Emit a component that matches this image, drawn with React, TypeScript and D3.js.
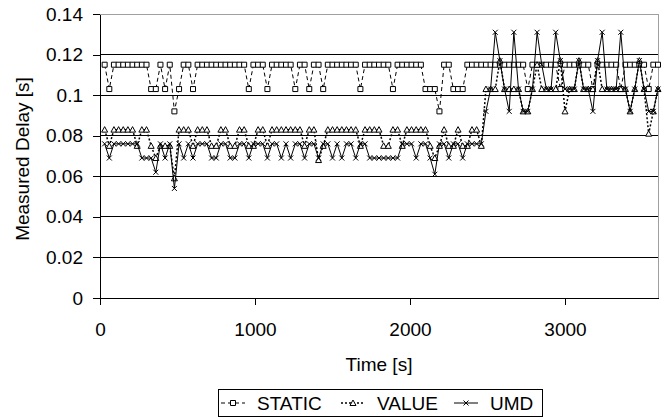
import React, { useRef, useEffect } from 'react'
import * as d3 from 'd3'

// sample times [s]
const times = [
  30, 60, 90, 120, 150, 180, 210, 240, 270, 300,
  330, 360, 390, 420, 450, 480, 510, 540, 570, 600,
  630, 660, 690, 720, 750, 780, 810, 840, 870, 900,
  930, 960, 990, 1020, 1050, 1080, 1110, 1140, 1170, 1200,
  1230, 1260, 1290, 1320, 1350, 1380, 1410, 1440, 1470, 1500,
  1530, 1560, 1590, 1620, 1650, 1680, 1710, 1740, 1770, 1800,
  1830, 1860, 1890, 1920, 1950, 1980, 2010, 2040, 2070, 2100,
  2130, 2160, 2190, 2220, 2250, 2280, 2310, 2340, 2370, 2400,
  2430, 2460, 2490, 2520, 2550, 2580, 2610, 2640, 2670, 2700,
  2730, 2760, 2790, 2820, 2850, 2880, 2910, 2940, 2970, 3000,
  3030, 3060, 3090, 3120, 3150, 3180, 3210, 3240, 3270, 3300,
  3330, 3360, 3390, 3420, 3450, 3480, 3510, 3540, 3570, 3600
]

const staticDelay = [
  .115, .103, .115, .115, .115, .115, .115, .115, .115, .115,
  .103, .103, .115, .103, .115, .092, .103, .115, .115, .103,
  .115, .115, .115, .115, .115, .115, .115, .115, .115, .115,
  .115, .103, .115, .115, .115, .103, .115, .115, .115, .115,
  .115, .103, .115, .115, .103, .115, .115, .103, .115, .115,
  .115, .115, .115, .115, .115, .103, .115, .115, .115, .115,
  .115, .115, .103, .115, .115, .115, .115, .115, .115, .103,
  .103, .103, .092, .115, .115, .103, .103, .103, .115, .115,
  .115, .115, .115, .115, .115, .115, .115, .115, .115, .115,
  .115, .103, .115, .115, .115, .115, .115, .115, .103, .115,
  .115, .115, .115, .115, .115, .103, .115, .115, .115, .115,
  .115, .103, .115, .115, .115, .115, .115, .103, .115, .115
]

const valueDelay = [
  .083, .075, .083, .083, .083, .083, .083, .075, .083, .083,
  .075, .069, .075, .075, .075, .059, .083, .083, .083, .075,
  .083, .083, .083, .075, .075, .083, .083, .075, .075, .083,
  .083, .075, .075, .083, .083, .075, .083, .083, .083, .083,
  .083, .083, .083, .075, .083, .083, .068, .075, .083, .083,
  .083, .083, .083, .083, .083, .075, .083, .083, .083, .083,
  .075, .075, .083, .083, .075, .083, .083, .083, .083, .083,
  .075, .069, .075, .083, .075, .075, .083, .075, .075, .083,
  .083, .075, .103, .103, .103, .117, .103, .103, .103, .103,
  .092, .092, .103, .115, .103, .103, .103, .103, .117, .092,
  .103, .103, .117, .103, .103, .103, .117, .103, .103, .103,
  .103, .103, .103, .092, .103, .117, .103, .081, .092, .103
]

const umdDelay = [
  .076, .069, .076, .076, .076, .076, .076, .076, .069, .069,
  .069, .062, .076, .069, .076, .054, .076, .069, .076, .069,
  .076, .076, .076, .069, .069, .076, .076, .069, .069, .076,
  .076, .069, .076, .076, .076, .069, .076, .076, .069, .076,
  .069, .076, .076, .069, .076, .076, .069, .076, .076, .069,
  .076, .069, .076, .076, .069, .076, .076, .069, .069, .069,
  .069, .069, .069, .069, .076, .076, .076, .069, .076, .076,
  .069, .061, .076, .076, .069, .076, .076, .069, .076, .076,
  .076, .076, .092, .103, .131, .117, .103, .092, .131, .103,
  .092, .092, .103, .131, .115, .103, .103, .131, .117, .103,
  .103, .103, .117, .103, .103, .092, .117, .131, .103, .103,
  .103, .131, .103, .092, .103, .117, .103, .092, .092, .103
]

const seriesNames = ['STATIC', 'VALUE', 'UMD']
const yTicks = [0, 0.02, 0.04, 0.06, 0.08, 0.1, 0.12, 0.14]
const yTickLabels = ['0', '0.02', '0.04', '0.06', '0.08', '0.1', '0.12', '0.14']
const xTicks = [0, 1000, 2000, 3000]
const xTickLabels = ['0', '1000', '2000', '3000']

const W = 665
const H = 418
const FONT = '"Liberation Sans", Arial, sans-serif'
const FS = 19

const App = () => {
  const svgRef = useRef<SVGSVGElement>(null)

  useEffect(() => {
    const svg = d3.select(svgRef.current)
    svg.selectAll('*').remove()

    const x = d3.scaleLinear().domain([0, 3600]).range([100, 658])
    const y = d3.scaleLinear().domain([0, 0.14]).range([298, 14])

    // gridlines
    svg.append('g')
      .selectAll('line')
      .data(yTicks.slice(1, -1))
      .enter().append('line')
      .attr('x1', x(0)).attr('x2', x(3600))
      .attr('y1', d => y(d)).attr('y2', d => y(d))
      .attr('stroke', '#000').attr('shape-rendering', 'crispEdges')

    // plot border (top / right)
    svg.append('path')
      .attr('d', `M${x(0)},${y(0.14)}H${x(3600)}V${y(0)}`)
      .attr('fill', 'none').attr('stroke', '#a0a0a0')
      .attr('shape-rendering', 'crispEdges')

    // axes
    const yAxis = svg.append('g')
      .attr('transform', `translate(${x(0)},0)`)
      .call(d3.axisLeft(y).tickValues(yTicks).tickSize(7).tickSizeOuter(0).tickPadding(10)
        .tickFormat((d, i) => yTickLabels[i]))
    const xAxis = svg.append('g')
      .attr('transform', `translate(0,${y(0)})`)
      .call(d3.axisBottom(x).tickValues(xTicks).tickSize(7).tickSizeOuter(0).tickPadding(18)
        .tickFormat((d, i) => xTickLabels[i]))
    ;[yAxis, xAxis].forEach(a => {
      a.selectAll('text').attr('font-size', FS).attr('font-family', FONT).attr('fill', '#000')
      a.selectAll('line, path').attr('stroke', '#000').attr('shape-rendering', 'crispEdges')
    })

    // axis titles
    svg.append('text')
      .attr('x', (x(0) + x(3600)) / 2).attr('y', 371)
      .attr('text-anchor', 'middle').attr('font-size', FS).attr('font-family', FONT)
      .text('Time [s]')
    svg.append('text')
      .attr('transform', `translate(29,${(y(0) + y(0.14)) / 2 + 3}) rotate(-90)`)
      .attr('text-anchor', 'middle').attr('font-size', FS).attr('font-family', FONT)
      .text('Measured Delay [s]')

    const series = [
      { name: seriesNames[0], values: staticDelay, dash: '4,3', width: 1, marker: 'square' },
      { name: seriesNames[1], values: valueDelay, dash: '2,2', width: 1.5, marker: 'triangle' },
      { name: seriesNames[2], values: umdDelay, dash: null, width: 1, marker: 'x' }
    ]

    const markerPath = (m: string, cx: number, cy: number) => {
      if (m === 'square') return `M${cx - 2.5},${cy - 2.5}h5v5h-5Z`
      if (m === 'triangle') return `M${cx},${cy - 3}L${cx + 3},${cy + 2.5}H${cx - 3}Z`
      return `M${cx - 2.5},${cy - 2.5}L${cx + 2.5},${cy + 2.5}M${cx + 2.5},${cy - 2.5}L${cx - 2.5},${cy + 2.5}`
    }

    const line = d3.line<number>()
      .x((d, i) => x(times[i]))
      .y(d => y(d))

    series.forEach(s => {
      const g = svg.append('g')
      g.append('path')
        .datum(s.values)
        .attr('d', line)
        .attr('fill', 'none')
        .attr('stroke', '#000')
        .attr('stroke-width', s.width)
        .attr('stroke-dasharray', s.dash)
      g.selectAll('path.mk')
        .data(s.values)
        .enter().append('path')
        .attr('class', 'mk')
        .attr('d', (d, i) => markerPath(s.marker, x(times[i]), y(d)))
        .attr('fill', s.marker === 'x' ? 'none' : '#fff')
        .attr('stroke', '#000')
        .attr('stroke-width', 1)
    })

    // legend
    const lg = svg.append('g')
    lg.append('rect')
      .attr('x', 218.5).attr('y', 389.5).attr('width', 324).attr('height', 27)
      .attr('fill', '#fff').attr('stroke', '#000')
    const legendX = [221, 341, 454]
    series.forEach((s, i) => {
      const lx = legendX[i]
      const cy = 403
      lg.append('line')
        .attr('x1', lx).attr('x2', lx + 24).attr('y1', cy).attr('y2', cy)
        .attr('stroke', '#000').attr('stroke-width', s.width)
        .attr('stroke-dasharray', s.dash)
      lg.append('path')
        .attr('d', markerPath(s.marker, lx + 12, cy))
        .attr('fill', s.marker === 'x' ? 'none' : '#fff')
        .attr('stroke', '#000')
      lg.append('text')
        .attr('x', lx + 36).attr('y', cy).attr('dy', '0.36em')
        .attr('font-size', FS).attr('font-family', FONT)
        .text(s.name)
    })
  }, [])

  return (
    <svg ref={svgRef} width={W} height={H}
      style={{ position: 'absolute', left: 0, top: 0, background: '#fff' }} />
  )
}

export default App
